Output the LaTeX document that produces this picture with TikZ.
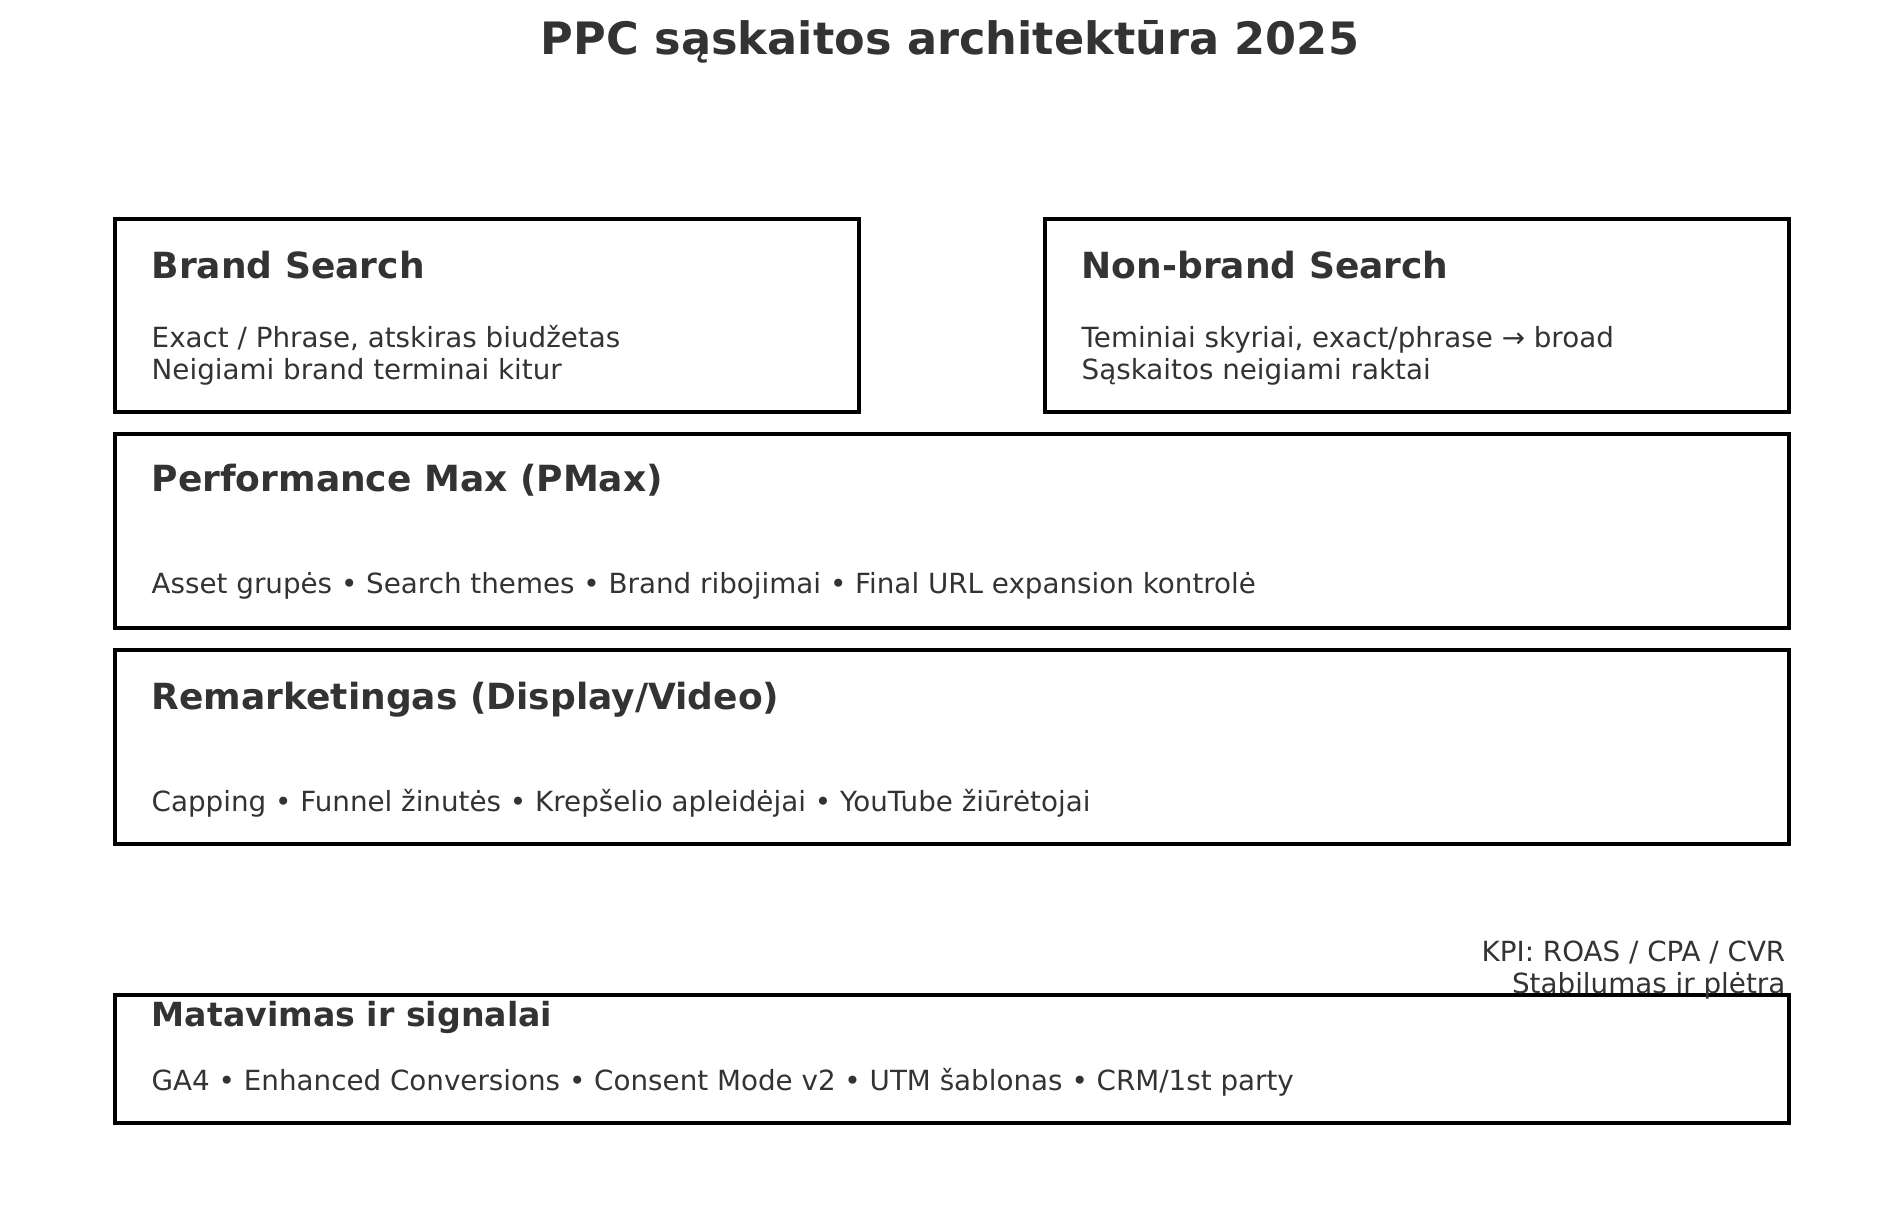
\documentclass[tikz,border=0pt]{standalone}
\usepackage{fontspec}
\setmainfont{DejaVu Sans}
\definecolor{ink}{HTML}{333333}

\begin{document}
\begin{tikzpicture}[x=0.1mm, y=-0.1mm,
    panel/.style={draw=black, line width=1.14pt, inner sep=0pt, anchor=north west},
    head/.style={anchor=base west, inner sep=0pt, text=ink, font=\bfseries\fontsize{10.25}{12}\selectfont},
    body/.style={anchor=base west, inner sep=0pt, text=ink, align=left, font=\fontsize{7.9}{9.1}\selectfont}]
    \useasboundingbox (0,0) rectangle (1900,1207);
    \node[anchor=base, inner sep=0pt, text=ink, font=\bfseries\fontsize{12.7}{15}\selectfont] (title) at (950,54) {PPC sąskaitos architektūra 2025};
    % paieska
    \node[panel, minimum width=74.4mm, minimum height=19.3mm] (brand) at (113,217) {};
    \node[head] (brandhead) at (151,278) {Brand Search};
    \node[body] (brandbody) at (151,379) {Exact / Phrase, atskiras biudžetas\\Neigiami brand terminai kitur};
    \node[panel, minimum width=74.4mm, minimum height=19.3mm] (nonbrand) at (1043,217) {};
    \node[head] (nonbrandhead) at (1081,278) {Non-brand Search};
    \node[body] (nonbrandbody) at (1081,379) {Teminiai skyriai, exact/phrase → broad\\Sąskaitos neigiami raktai};
    % pmax ir remarketingas
    \node[panel, minimum width=167.4mm, minimum height=19.4mm] (pmax) at (113,432) {};
    \node[head] (pmaxhead) at (151,491) {Performance Max (PMax)};
    \node[body] (pmaxbody) at (151,593) {Asset grupės • Search themes • Brand ribojimai • Final URL expansion kontrolė};
    \node[panel, minimum width=167.4mm, minimum height=19.4mm] (remark) at (113,648) {};
    \node[head] (remarkhead) at (151,709) {Remarketingas (Display/Video)};
    \node[body] (remarkbody) at (151,811) {Capping • Funnel žinutės • Krepšelio apleidėjai • YouTube žiūrėtojai};
    % matavimas
    \node[panel, minimum width=167.4mm, minimum height=12.8mm] (measure) at (113,993) {};
    \node[head, font=\bfseries\fontsize{9.45}{11}\selectfont] (measurehead) at (151,1026) {Matavimas ir signalai};
    \node[body] (measurebody) at (151,1090) {GA4 • Enhanced Conversions • Consent Mode v2 • UTM šablonas • CRM/1st party};
    \node[body, anchor=base east, align=right] (kpi) at (1786,993) {KPI: ROAS / CPA / CVR\\Stabilumas ir plėtra};
\end{tikzpicture}
\end{document}
